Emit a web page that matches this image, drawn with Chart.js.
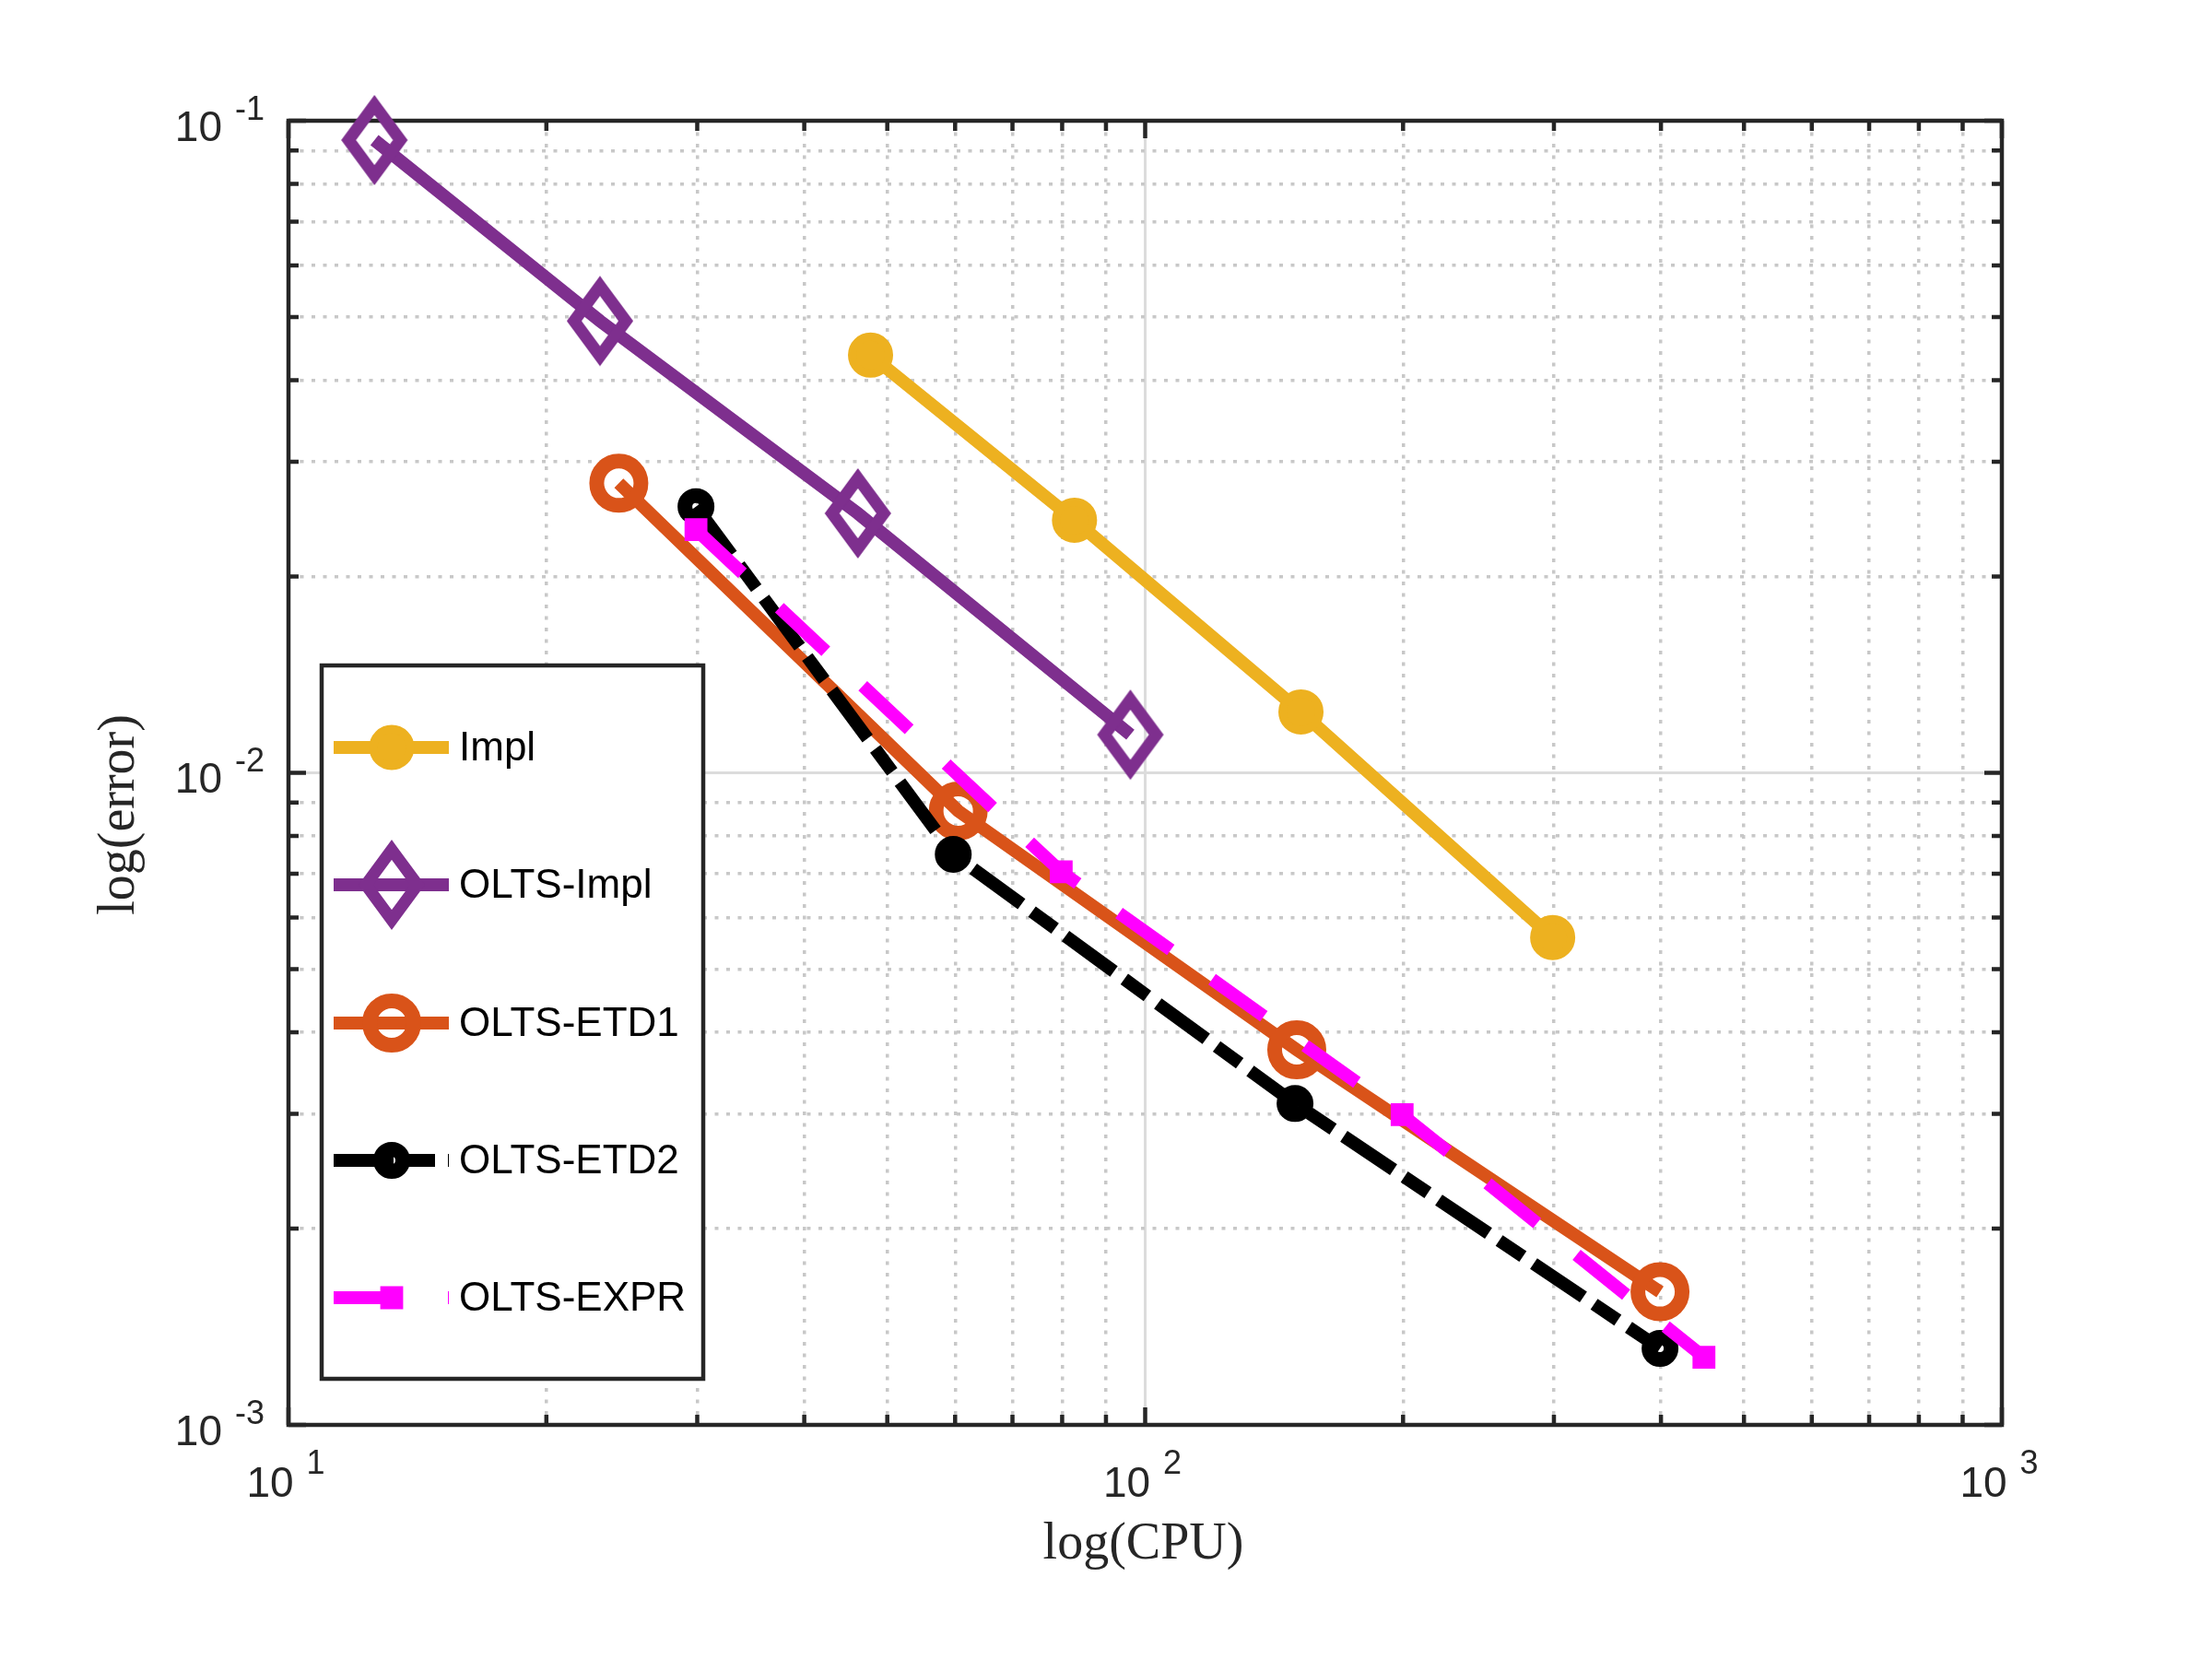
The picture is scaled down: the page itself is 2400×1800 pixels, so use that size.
<!DOCTYPE html>
<html>
<head>
<meta charset="utf-8">
<title>log(error) vs log(CPU)</title>
<script src="https://cdn.jsdelivr.net/npm/chart.js@4/dist/chart.umd.min.js"></script>
<style>
  html, body { margin: 0; padding: 0; background: #fff; }
  #wrap { width: 2400px; height: 1800px; }
</style>
</head>
<body>
<div id="wrap"><canvas id="chart" width="2400" height="1800"></canvas></div>
<script>
// Data
const seriesNames = ['Impl', 'OLTS-Impl', 'OLTS-ETD1', 'OLTS-ETD2', 'OLTS-EXPR'];

const cpuImpl = [47.8, 82.7, 152, 299];
const errImpl = [0.0437, 0.0244, 0.0124, 0.00559];

const cpuOltsImpl = [12.6, 23.1, 46.2, 96.1];
const errOltsImpl = [0.0934, 0.0493, 0.0250, 0.01144];

const cpuEtd1 = [24.3, 60.5, 150.3, 399];
const errEtd1 = [0.0278, 0.00874, 0.00376, 0.00160];

const cpuEtd2 = [29.9, 59.7, 149.6, 399];
const errEtd2 = [0.0256, 0.0075, 0.00311, 0.00131];

const cpuExpr = [29.9, 79.8, 199.5, 449];
const errExpr = [0.0236, 0.00705, 0.00299, 0.00127];

// Axis ticks
const xTicks = [10, 20, 30, 40, 50, 60, 70, 80, 90, 100, 200, 300, 400, 500, 600, 700, 800, 900, 1000];
const yTicks = [0.001, 0.002, 0.003, 0.004, 0.005, 0.006, 0.007, 0.008, 0.009,
                0.01, 0.02, 0.03, 0.04, 0.05, 0.06, 0.07, 0.08, 0.09, 0.1];
const xDecades = [1, 2, 3];
const yDecades = [-3, -2, -1];

const xTitle = 'log(CPU)';
const yTitle = 'log(error)';

// Colours
const cImpl = '#EDB120';
const cOltsImpl = '#7E2F8E';
const cEtd1 = '#D95319';
const cEtd2 = '#000000';
const cExpr = '#FF00FF';
const axisColor = '#262626';

const isDecade = v => Math.abs(Math.log10(v) - Math.round(Math.log10(v))) < 1e-9;
const toPoints = (xs, ys) => xs.map((x, i) => ({ x: x, y: ys[i] }));

// Diamond marker (MATLAB 'd' is taller than wide)
function makeDiamond(color) {
    const c = document.createElement('canvas');
    c.width = 90;
    c.height = 116;
    const g = c.getContext('2d');
    g.strokeStyle = color;
    g.lineWidth = 13;
    g.lineJoin = 'miter';
    g.beginPath();
    g.moveTo(45, 20);
    g.lineTo(73, 58);
    g.lineTo(45, 96);
    g.lineTo(17, 58);
    g.closePath();
    g.stroke();
    return c;
}
const diamond = makeDiamond(cOltsImpl);

const lineWidth = 14;

const datasets = [
    {
        label: seriesNames[0], data: toPoints(cpuImpl, errImpl),
        borderColor: cImpl, backgroundColor: cImpl,
        pointStyle: 'circle', pointRadius: 20, pointBorderWidth: 9,
        pointBackgroundColor: cImpl, pointBorderColor: cImpl, borderDash: [], order: 5
    },
    {
        label: seriesNames[1], data: toPoints(cpuOltsImpl, errOltsImpl),
        borderColor: cOltsImpl, backgroundColor: cOltsImpl,
        pointStyle: diamond, pointRadius: 40, pointBorderWidth: 0, borderDash: [], order: 4
    },
    {
        label: seriesNames[2], data: toPoints(cpuEtd1, errEtd1),
        borderColor: cEtd1, backgroundColor: cEtd1,
        pointStyle: 'circle', pointRadius: 24, pointBorderWidth: 16,
        pointBackgroundColor: 'rgba(0,0,0,0)', pointBorderColor: cEtd1, borderDash: [], order: 3
    },
    {
        label: seriesNames[3], data: toPoints(cpuEtd2, errEtd2),
        borderColor: cEtd2, backgroundColor: cEtd2,
        pointStyle: 'circle', pointRadius: 12, pointBorderWidth: 16,
        pointBackgroundColor: 'rgba(0,0,0,0)', pointBorderColor: cEtd2, borderDash: [65, 14, 31, 14], order: 2
    },
    {
        label: seriesNames[4], data: toPoints(cpuExpr, errExpr),
        borderColor: cExpr, backgroundColor: cExpr,
        pointStyle: 'rect', pointRadius: 14, pointBorderWidth: 5,
        pointBackgroundColor: cExpr, pointBorderColor: cExpr, borderDash: [69, 55], order: 1
    }
];
datasets.forEach(d => {
    d.showLine = true;
    d.borderWidth = lineWidth;
    d.tension = 0;
    d.clip = false;
    d.borderCapStyle = 'butt';
});

function gridColor(ctx) {
    return ctx.tick && isDecade(ctx.tick.value) ? '#dcdcdc' : '#c8c8c8';
}
function gridWidth(ctx) {
    return ctx.tick && isDecade(ctx.tick.value) ? 3 : 3.5;
}
function gridDash(ctx) {
    return ctx.tick && isDecade(ctx.tick.value) ? [] : [4, 8.5];
}

// Box, inner ticks on four sides, labels, legend
const boxPlugin = {
    id: 'box',
    beforeDatasetsDraw(chart) {
        const { ctx, chartArea: a, scales: { x, y } } = chart;
        ctx.save();
        ctx.strokeStyle = axisColor;
        ctx.lineWidth = 4.5;
        ctx.lineCap = 'butt';
        ctx.beginPath();
        xTicks.forEach(v => {
            const px = x.getPixelForValue(v);
            const len = isDecade(v) ? 19 : 11;
            ctx.moveTo(px, a.bottom); ctx.lineTo(px, a.bottom - len);
            ctx.moveTo(px, a.top); ctx.lineTo(px, a.top + len);
        });
        yTicks.forEach(v => {
            const py = y.getPixelForValue(v);
            const len = isDecade(v) ? 19 : 11;
            ctx.moveTo(a.left, py); ctx.lineTo(a.left + len, py);
            ctx.moveTo(a.right, py); ctx.lineTo(a.right - len, py);
        });
        ctx.stroke();
        ctx.strokeRect(a.left, a.top, a.right - a.left, a.bottom - a.top);
        ctx.restore();
    },
    afterDraw(chart) {
        const { ctx, chartArea: a, scales: { x, y } } = chart;
        ctx.save();
        ctx.fillStyle = axisColor;
        ctx.textBaseline = 'middle';
        const baseFont = '46px "Liberation Sans", Arial, sans-serif';
        const expFont = '36px "Liberation Sans", Arial, sans-serif';
        const gap = 14;

        // y tick labels
        yDecades.forEach(e => {
            const py = y.getPixelForValue(Math.pow(10, e));
            ctx.font = baseFont;
            ctx.textAlign = 'right';
            ctx.fillText('10', a.left - 72, py + 9);
            ctx.font = expFont;
            ctx.textAlign = 'left';
            ctx.fillText(String(e), a.left - 58, py - 11);
        });

        // x tick labels
        xDecades.forEach(e => {
            const px = x.getPixelForValue(Math.pow(10, e));
            ctx.font = baseFont;
            const w10 = ctx.measureText('10').width;
            ctx.font = expFont;
            const wExp = ctx.measureText(String(e)).width;
            const start = px - (w10 + gap + wExp) / 2 - 3;
            ctx.textAlign = 'left';
            ctx.font = baseFont;
            ctx.fillText('10', start, a.bottom + 65);
            ctx.font = expFont;
            ctx.fillText(String(e), start + w10 + gap, a.bottom + 43);
        });

        // axis titles
        ctx.font = '56px "Liberation Serif", "Times New Roman", serif';
        ctx.textAlign = 'center';
        ctx.textBaseline = 'alphabetic';
        ctx.fillText(xTitle, (a.left + a.right) / 2 - 2, 1691);
        ctx.save();
        ctx.translate(145, 884);
        ctx.rotate(-Math.PI / 2);
        ctx.fillText(yTitle, 0, 0);
        ctx.restore();

        // legend
        const lx = 349, ly = 722, lw = 414, lh = 774;
        ctx.fillStyle = '#ffffff';
        ctx.fillRect(lx, ly, lw, lh);
        ctx.strokeStyle = axisColor;
        ctx.lineWidth = 4.5;
        ctx.strokeRect(lx, ly, lw, lh);

        const rowY = [811, 960, 1110, 1259, 1408];
        chart.data.datasets.forEach((d, i) => {
            const ry = rowY[i];
            ctx.save();
            ctx.strokeStyle = d.borderColor;
            ctx.lineWidth = d.borderWidth;
            ctx.lineCap = 'butt';
            ctx.setLineDash(d.borderDash || []);
            ctx.beginPath();
            ctx.moveTo(362, ry);
            ctx.lineTo(487, ry);
            ctx.stroke();
            ctx.setLineDash([]);
            const mx = 425;
            if (typeof d.pointStyle === 'object') {
                ctx.drawImage(d.pointStyle, mx - d.pointStyle.width / 2, ry - d.pointStyle.height / 2);
            } else if (d.pointStyle === 'rect') {
                const s = d.pointRadius * Math.SQRT1_2;
                ctx.fillStyle = d.pointBackgroundColor;
                ctx.strokeStyle = d.pointBorderColor;
                ctx.lineWidth = d.pointBorderWidth;
                ctx.beginPath();
                ctx.rect(mx - s, ry - s, 2 * s, 2 * s);
                ctx.fill();
                ctx.stroke();
            } else {
                ctx.fillStyle = d.pointBackgroundColor;
                ctx.strokeStyle = d.pointBorderColor;
                ctx.lineWidth = d.pointBorderWidth;
                ctx.beginPath();
                ctx.arc(mx, ry, d.pointRadius, 0, Math.PI * 2);
                ctx.fill();
                ctx.stroke();
            }
            ctx.restore();
            ctx.fillStyle = '#000000';
            ctx.font = '44px "Liberation Sans", Arial, sans-serif';
            ctx.textAlign = 'left';
            ctx.textBaseline = 'middle';
            ctx.fillText(d.label, 498, ry + 2);
        });
        ctx.restore();
    }
};

new Chart(document.getElementById('chart'), {
    type: 'scatter',
    data: { datasets: datasets },
    options: {
        responsive: false,
        devicePixelRatio: 1,
        animation: false,
        events: [],
        layout: { padding: { left: 313, right: 228, top: 131, bottom: 254 } },
        plugins: { legend: { display: false }, tooltip: { enabled: false } },
        scales: {
            x: {
                type: 'logarithmic',
                min: 10, max: 1000,
                afterBuildTicks: s => { s.ticks = xTicks.map(v => ({ value: v })); },
                ticks: { display: false },
                grid: { drawTicks: false, color: gridColor, lineWidth: gridWidth },
                border: { display: false, dash: gridDash }
            },
            y: {
                type: 'logarithmic',
                min: 0.001, max: 0.1,
                afterBuildTicks: s => { s.ticks = yTicks.map(v => ({ value: v })); },
                ticks: { display: false },
                grid: { drawTicks: false, color: gridColor, lineWidth: gridWidth },
                border: { display: false, dash: gridDash }
            }
        }
    },
    plugins: [boxPlugin]
});
</script>
</body>
</html>
